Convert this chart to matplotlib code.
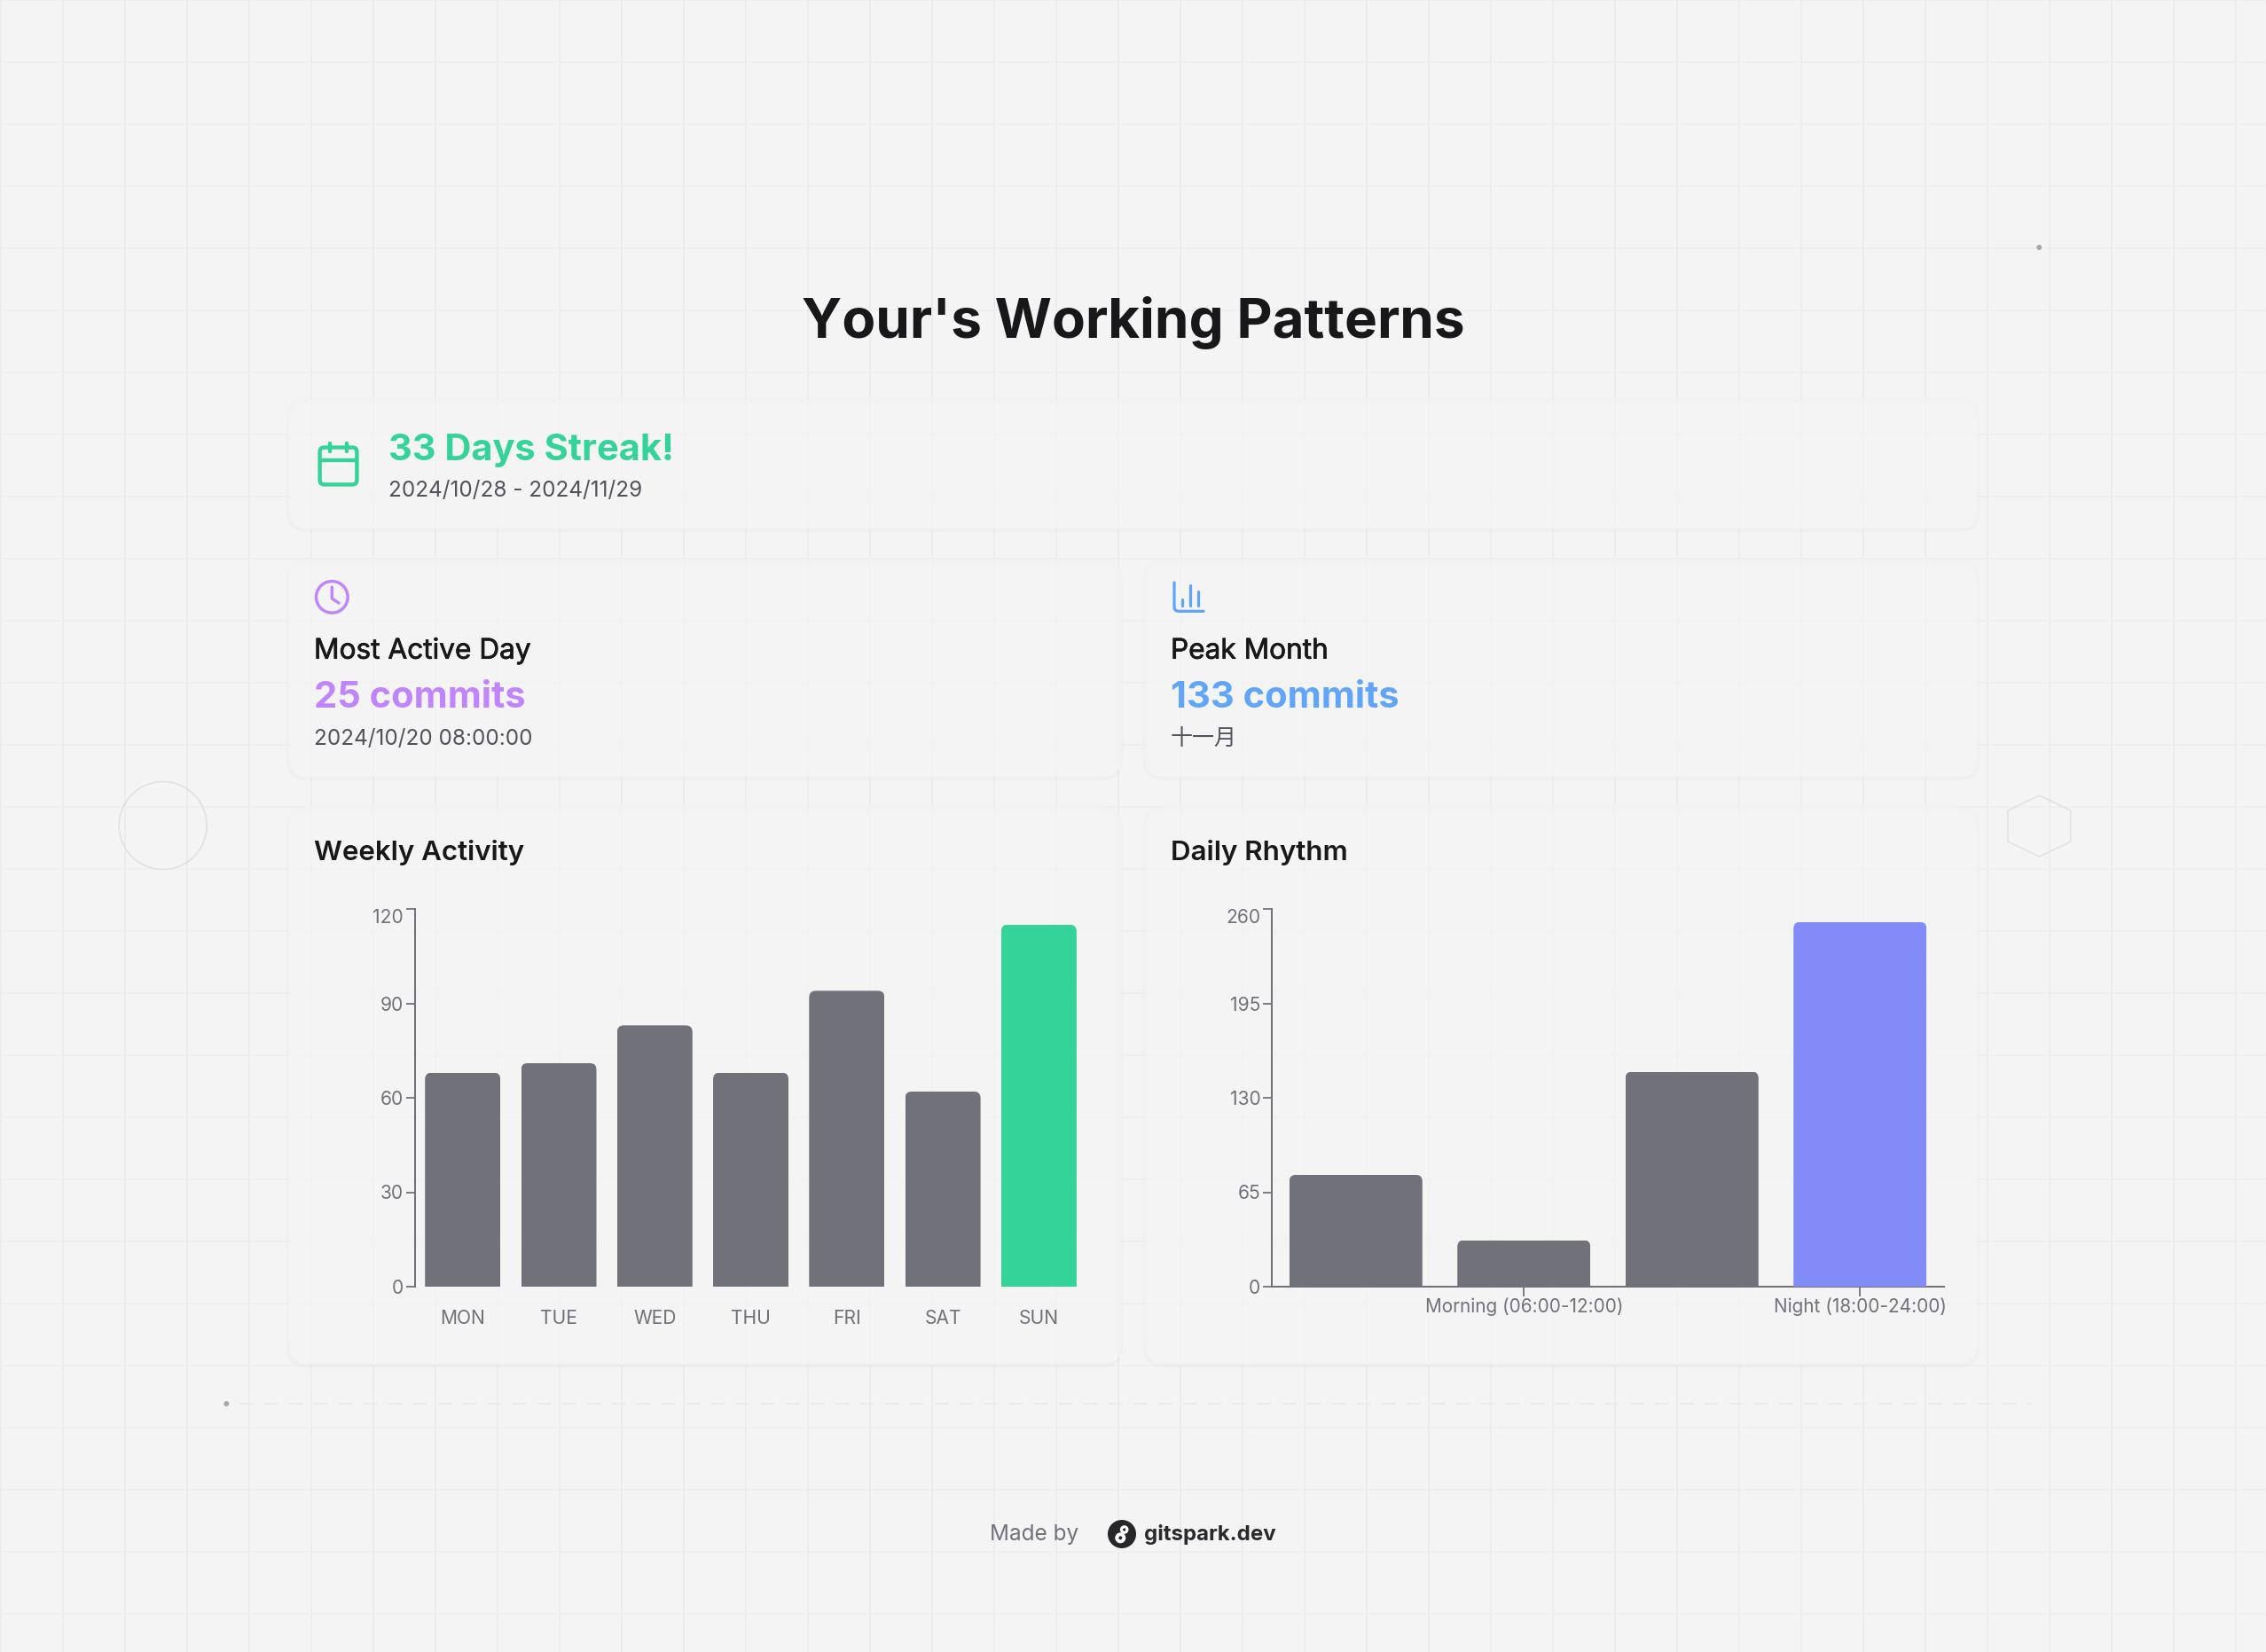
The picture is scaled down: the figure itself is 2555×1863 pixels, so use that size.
#!/usr/bin/env python

import matplotlib
matplotlib.use('Agg')
import matplotlib.pyplot as plt
import matplotlib.patheffects as pe
from matplotlib.patches import FancyBboxPatch, Circle, Polygon
from matplotlib.path import Path
from matplotlib.patches import PathPatch

W, H = 2555, 1863
DPI = 100

# data
days = ['MON', 'TUE', 'WED', 'THU', 'FRI', 'SAT', 'SUN']
day_commits = [68, 71, 83, 68, 94, 62, 115]
day_ticks = [0, 30, 60, 90, 120]

periods = ['', 'Morning (06:00-12:00)', '', 'Night (18:00-24:00)']
period_commits = [77, 32, 148, 251]
period_ticks = [0, 65, 130, 195, 260]

# colours
BG = '#f4f4f5'
INK = '#18181b'
SUB = '#52525b'
GREY = '#71717a'
GREEN = '#34d399'
PURPLE = '#c084fc'
BLUE = '#60a5fa'
INDIGO = '#818cf8'

plt.rcParams['font.family'] = ['Inter', 'DejaVu Sans']
plt.rcParams['lines.scale_dashes'] = False


def pt(px):
    return px * 72 / DPI


fig = plt.figure(figsize=(W / DPI, H / DPI), dpi=DPI, facecolor=BG)
bg = fig.add_axes([0, 0, 1, 1])
bg.set_xlim(0, W)
bg.set_ylim(H, 0)
bg.axis('off')

# grid
for gx in range(0, W + 1, 70):
    bg.plot([gx + 0.7, gx + 0.7], [0, H], color='#ebebed', lw=pt(1.6), zorder=1)
for gy in range(0, H + 1, 70):
    bg.plot([0, W], [gy, gy], color='#eeeef0', lw=pt(1.6), zorder=1)

# decorations
bg.add_patch(Circle((183.7, 931), 49.5, fc='none', ec='#e0e0e2', lw=pt(1.6), zorder=2))
bg.add_patch(Polygon([(2299.5, 897), (2334.7, 914), (2334.7, 949), (2299.5, 966),
                      (2264, 949), (2264, 914)], closed=True, fc='none', ec='#e2e2e4',
                     lw=pt(1.6), zorder=2))
bg.add_patch(Circle((2299.3, 279), 3, fc='#a8a8aa', ec='none', zorder=2))
bg.add_patch(Circle((255.3, 1583), 3, fc='#a8a8aa', ec='none', zorder=2))
bg.plot([270, 2290], [1583, 1583], color='#e8e8ea', lw=pt(1.6),
        linestyle=(0, (pt(15), pt(13))), dash_capstyle='butt', zorder=2)


def card(x0, y0, x1, y1):
    # soft shadow along the edge, then the frosted panel
    for lw, alpha in ((5, 0.008), (3, 0.012)):
        bg.add_patch(FancyBboxPatch((x0, y0 + 2), x1 - x0, y1 - y0,
                                    boxstyle='round,pad=0,rounding_size=21',
                                    fc='none', ec=(0, 0, 0, alpha), lw=pt(lw), zorder=3))
    bg.add_patch(FancyBboxPatch((x0, y0), x1 - x0, y1 - y0,
                                boxstyle='round,pad=0,rounding_size=21',
                                fc=(0.957, 0.957, 0.961, 0.78), ec='#f2f2f3', lw=pt(1.4), zorder=3))


card(325, 450, 2230, 596)
card(325, 631, 1264, 876)
card(1291, 631, 2230, 876)
card(325, 910, 1264, 1538)
card(1291, 910, 2230, 1538)


def label(x, y, s, px, color, weight='normal', ha='left', **kw):
    return bg.text(x, y, s, fontsize=pt(px), color=color, fontweight=weight, ha=ha,
                   va='baseline', zorder=6, **kw)


# regular weight with a thin outline, close to Inter medium
medium = [pe.withStroke(linewidth=pt(0.7), foreground=INK)]

label(1277.5, 380.7, "Your's Working Patterns", 62, INK, 'bold', ha='center')
label(438, 519.3, '33 Days Streak!', 41.6, GREEN, 'bold')
label(438, 560, '2024/10/28 - 2024/11/29', 24.2, SUB)
label(354, 742.7, 'Most Active Day', 31.6, INK, path_effects=medium)
label(354, 798.5, '25 commits', 41.7, PURPLE, 'bold')
label(354, 840, '2024/10/20 08:00:00', 24.2, SUB)
label(1320, 742.7, 'Peak Month', 31.6, INK, path_effects=medium)
label(1320, 798.5, '133 commits', 41.7, BLUE, 'bold')
bg.text(1319.5, 840.5, '十一月', fontsize=pt(25), color=SUB, va='baseline', zorder=6,
        family=['Noto Sans CJK SC', 'DejaVu Sans'])
label(354, 970.5, 'Weekly Activity', 31.3, INK, 'semibold')
label(1320, 970.5, 'Daily Rhythm', 31.3, INK, 'semibold')
label(1116.5, 1737.5, 'Made by', 24.3, GREY)
label(1290, 1737.5, 'gitspark.dev', 24, '#2a2a2e', 'bold')


def stroke(xs, ys, color, px):
    bg.plot(xs, ys, color=color, lw=pt(px), solid_capstyle='round', solid_joinstyle='round', zorder=6)


# calendar icon
bg.add_patch(FancyBboxPatch((360.6, 504.6), 41.8, 41.8, boxstyle='round,pad=0,rounding_size=5',
                            fc='none', ec=GREEN, lw=pt(4.4), zorder=6))
stroke([372, 372], [499.5, 509], GREEN, 4.4)
stroke([390.7, 390.7], [499.5, 509], GREEN, 4.4)
stroke([360.6, 402.4], [518.7, 518.7], GREEN, 4.4)

# clock icon
bg.add_patch(Circle((374.3, 673.3), 17.8, fc='none', ec=PURPLE, lw=pt(3.4), zorder=6))
stroke([374.3, 374.3, 382], [662, 675, 680], PURPLE, 3.4)

# bars icon
corner = Path([(1324, 657), (1324, 684), (1324, 689.3), (1329, 689.3), (1357, 689.3)],
              [Path.MOVETO, Path.LINETO, Path.CURVE3, Path.CURVE3, Path.LINETO])
bg.add_patch(PathPatch(corner, fc='none', ec=BLUE, lw=pt(3.2), capstyle='round', zorder=6))
stroke([1333.3, 1333.3], [676, 682.7], BLUE, 3.2)
stroke([1342.3, 1342.3], [660, 682.7], BLUE, 3.2)
stroke([1351, 1351], [666.7, 682.7], BLUE, 3.2)

# logo
bg.add_patch(Circle((1265, 1730), 16, fc='#27272a', ec='none', zorder=6))
bg.add_patch(Circle((1267.7, 1725), 4.8, fc='white', ec='none', zorder=7))
bg.add_patch(Circle((1263.3, 1734.3), 6, fc='white', ec='none', zorder=7))
bg.add_patch(Circle((1267.7, 1725), 1.6, fc='#27272a', ec='none', zorder=8))
bg.add_patch(Circle((1263.3, 1734.3), 2, fc='#27272a', ec='none', zorder=8))


def chart(left, right, top, bottom, cats, vals, ticks, colors, bar_px):
    ax = fig.add_axes([left / W, 1 - bottom / H, (right - left) / W, (bottom - top) / H], zorder=5)
    ax.patch.set_alpha(0)
    band = (right - left) / len(cats)
    xs = list(range(len(cats)))
    bars = ax.bar(xs, vals, width=bar_px / band, color=colors, zorder=3)
    ax.set_xlim(-0.5, len(cats) - 0.5)
    ax.set_ylim(0, ticks[-1])

    # only the top corners are round
    r = 7.5
    x_unit = 1 / band
    y_unit = ticks[-1] / (bottom - top)
    for b in bars:
        clip = FancyBboxPatch((b.get_x(), -b.get_height()), b.get_width(), 2 * b.get_height(),
                              boxstyle='round,pad=0,rounding_size=%f' % (r * x_unit),
                              mutation_aspect=y_unit / x_unit, transform=ax.transData)
        b.set_clip_path(clip)

    for s in ('top', 'right'):
        ax.spines[s].set_visible(False)
    ax.spines['left'].set_color(GREY)
    ax.spines['left'].set_linewidth(pt(2))
    ax.spines['bottom'].set_color(GREY)
    ax.spines['bottom'].set_linewidth(pt(2))
    ax.set_yticks(ticks)
    ax.tick_params(axis='y', length=pt(10.5), width=pt(1.8), color=GREY, labelcolor=GREY,
                   labelsize=pt(21), pad=pt(2.2))
    ax.get_yticklabels()[-1].set_verticalalignment('top')
    return ax


week = chart(467.6, 1225.5, 1025, 1451, days, day_commits, day_ticks,
             [GREY] * 6 + [GREEN], 85)
week.spines['bottom'].set_visible(False)
week.set_xticks(range(len(days)), days)
week.tick_params(axis='x', length=0, labelcolor=GREY, labelsize=pt(21), pad=pt(26))

daily = chart(1434, 2192, 1025, 1451, periods, period_commits, period_ticks,
              [GREY] * 3 + [INDIGO], 150)
daily.set_xticks([1, 3], [periods[1], periods[3]])
daily.tick_params(axis='x', length=pt(10.5), width=pt(1.8), color=GREY, labelcolor=GREY,
                  labelsize=pt(20.7), pad=pt(1.5))

fig.savefig('out.png', dpi=DPI, facecolor=BG)
